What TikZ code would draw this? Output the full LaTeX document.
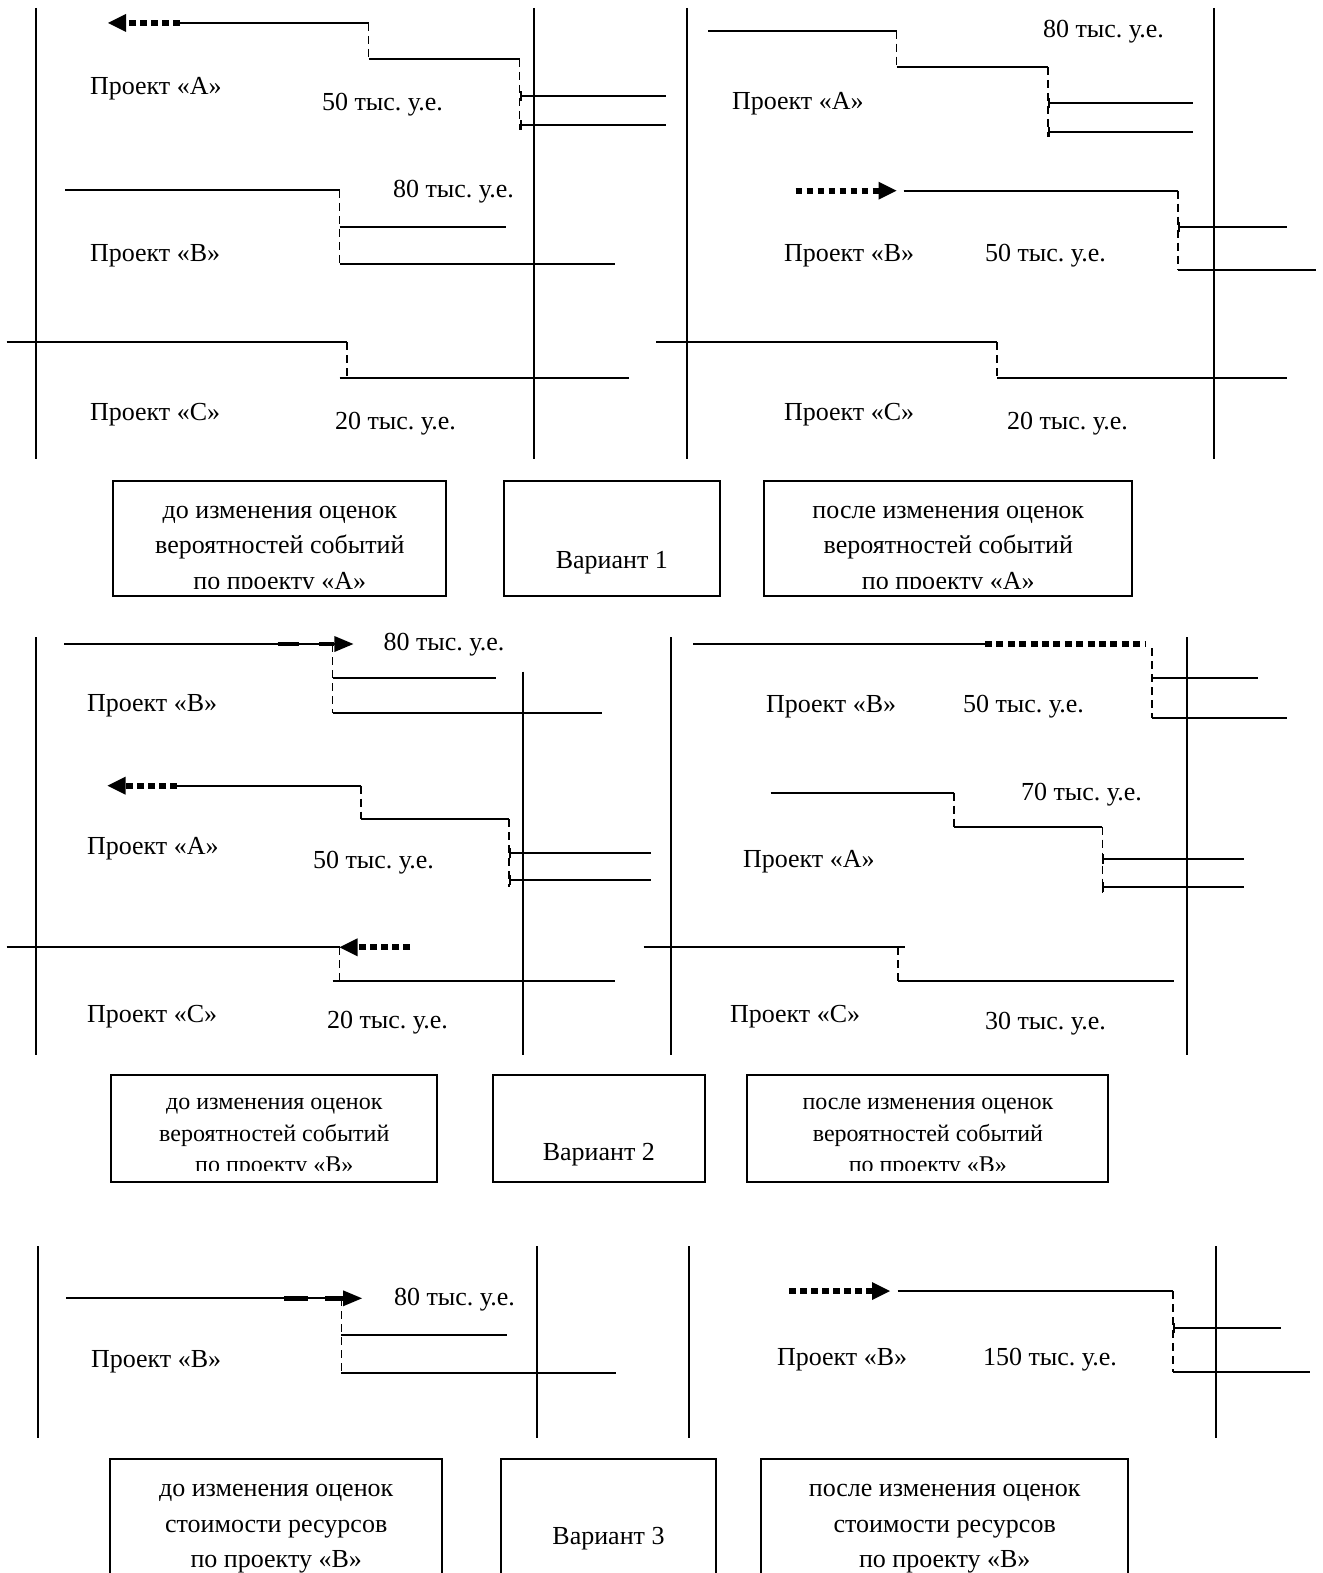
\documentclass[tikz,border=0pt]{standalone}
\usepackage{fontspec}
\setmainfont{Liberation Serif}
\usetikzlibrary{arrows.meta}
\frenchspacing

\begin{document}
\begin{tikzpicture}[x=0.5pt, y=-0.5pt, line width=1pt,
    rail/.style={line width=1pt},
    gap/.style={line width=0.8pt, dash pattern=on 4pt off 2.5pt},
    stub/.style={arrows={Bar[width=5pt]-}},
    move/.style={line width=3pt, dash pattern=on 3.3pt off 2.2pt, -{Triangle[length=9pt,width=9pt,line width=0pt]}},
    dots/.style={line width=3pt, dash pattern=on 3.5pt off 2.2pt},
    push/.style={line width=2.2pt, dash pattern=on 10.75pt off 10pt, -{Triangle[length=9.5pt,width=8pt,line width=0pt]}},
    lbl/.style={anchor=west, inner sep=0pt, font=\fontsize{13}{15}\selectfont},
    big/.style={align=center, inner sep=0pt, font=\fontsize{13}{17.7}\selectfont},
    small/.style={align=center, inner sep=0pt, font=\fontsize{12}{15.6}\selectfont}]
    \useasboundingbox (0,0) rectangle (1322,1573);

    \draw[rail] (36.4,8) -- (36.4,459) (534,8) -- (534,459);
    \draw[move] (180,23) -- (108,23);
    \draw (180,23) -- (368.6,23);
    \draw[gap] (368.6,23) -- (368.6,59);
    \draw (368.6,59) -- (519.5,59);
    \draw[gap] (519.5,59) -- (519.5,130);
    \draw[stub] (519.5,96) -- (665.7,96);
    \draw[stub] (519.5,125) -- (665.7,125);
    \draw (65,190) -- (339.5,190);
    \draw[gap] (339.5,190) -- (339.5,264);
    \draw (339.5,227) -- (506,227) (339.5,264) -- (615,264);
    \draw (6.5,342) -- (347,342);
    \draw[gap] (347,342) -- (347,378);
    \draw (339.5,378) -- (629,378);
    \node[lbl] (pA1) at (89,89) {Проект «А»};
    \node[lbl] (vA1) at (321,105) {50 тыс. у.е.};
    \node[lbl] (pB1) at (89,256) {Проект «В»};
    \node[lbl] (vB1) at (392,192) {80 тыс. у.е.};
    \node[lbl] (pC1) at (89,415) {Проект «С»};
    \node[lbl] (vC1) at (334,424) {20 тыс. у.е.};

    \draw[rail] (686.9,8) -- (686.9,459) (1214,8) -- (1214,459);
    \draw (708,30.7) -- (896.5,30.7);
    \draw[gap] (896.5,30.7) -- (896.5,67);
    \draw (896.5,67) -- (1048,67);
    \draw[gap] (1048,67) -- (1048,137);
    \draw[stub] (1048,103) -- (1192.6,103);
    \draw[stub] (1048,132) -- (1192.6,132);
    \draw[move] (795.7,190.7) -- (896.5,190.7);
    \draw (903.7,190.7) -- (1178,190.7);
    \draw[gap] (1178,190.7) -- (1178,270);
    \draw[stub] (1178,227) -- (1286.5,227);
    \draw (1178,270) -- (1315.6,270);
    \draw (656,342) -- (997,342);
    \draw[gap] (997,342) -- (997,378);
    \draw (997,378) -- (1286.5,378);
    \node[lbl] (pA2) at (731,104) {Проект «А»};
    \node[lbl] (vA2) at (1042,32) {80 тыс. у.е.};
    \node[lbl] (pB2) at (783,256) {Проект «В»};
    \node[lbl] (vB2) at (984,256) {50 тыс. у.е.};
    \node[lbl] (pC2) at (783,415) {Проект «С»};
    \node[lbl] (vC2) at (1006,424) {20 тыс. у.е.};

    \draw (113.3,481.4) rectangle (446.4,595.8) (503.5,481.4) rectangle (720,595.8) (764.3,481.4) rectangle (1132.4,595.8);
    \begin{scope}
    \clip (113.3,481.4) rectangle (1132.4,588);
    \node[big] (before1) at (279.8,550.5) {до изменения оценок\\вероятностей событий\\по проекту «А»};
    \node[big] (after1) at (948.3,550.5) {после изменения оценок\\вероятностей событий\\по проекту «А»};
    \end{scope}
    \node[big] (var1) at (611.8,563) {Вариант 1};

    \draw[rail] (35.6,637) -- (35.6,1055) (523.4,671.7) -- (523.4,1055);
    \draw (64,644) -- (340,644);
    \draw[push] (277.5,644) -- (353.4,644);
    \draw[gap] (332.6,644) -- (332.6,712.7);
    \draw (332.6,678.3) -- (495.7,678.3) (332.6,712.7) -- (601.5,712.7);
    \draw[move] (177,785.7) -- (107.5,785.7);
    \draw (177,785.7) -- (360.8,785.7);
    \draw[gap] (360.8,785.7) -- (360.8,819.3);
    \draw (360.8,819.3) -- (508.7,819.3);
    \draw[gap] (508.7,819.3) -- (508.7,886.7);
    \draw[stub] (508.7,852.7) -- (650.5,852.7);
    \draw[stub] (508.7,880) -- (650.5,880);
    \draw (6.5,947.3) -- (339.5,947.3);
    \draw[move] (410,947.3) -- (339.5,947.3);
    \draw[gap] (339.5,947.3) -- (339.5,980.7);
    \draw (332.6,980.7) -- (615,980.7);
    \node[lbl] (pB3) at (86,706) {Проект «В»};
    \node[lbl] (vB3) at (382.5,645) {80 тыс. у.е.};
    \node[lbl] (pA3) at (86,849) {Проект «А»};
    \node[lbl] (vA3) at (312,863) {50 тыс. у.е.};
    \node[lbl] (pC3) at (86,1017) {Проект «С»};
    \node[lbl] (vC3) at (326,1023) {20 тыс. у.е.};

    \draw[rail] (671.3,637) -- (671.3,1055) (1187,637) -- (1187,1055);
    \draw (693,644) -- (985,644);
    \draw[dots] (985,644) -- (1146,644);
    \draw[gap] (1152,648) -- (1152,718.3);
    \draw (1152,678.3) -- (1257.7,678.3) (1152,718.3) -- (1286.8,718.3);
    \draw (770.5,792.7) -- (954,792.7);
    \draw[gap] (954,792.7) -- (954,826.7);
    \draw (954,826.7) -- (1102.4,826.7);
    \draw[gap] (1102.4,826.7) -- (1102.4,893.3);
    \draw[stub] (1102.4,859.3) -- (1243.7,859.3);
    \draw[stub] (1102.4,886.7) -- (1243.7,886.7);
    \draw (643.5,947.3) -- (904.5,947.3);
    \draw[gap] (898,947.3) -- (898,980.7);
    \draw (898,980.7) -- (1173.7,980.7);
    \node[lbl] (pB4) at (765,707) {Проект «В»};
    \node[lbl] (vB4) at (962,707) {50 тыс. у.е.};
    \node[lbl] (pA4) at (742,862) {Проект «А»};
    \node[lbl] (vA4) at (1020,795) {70 тыс. у.е.};
    \node[lbl] (pC4) at (729,1017) {Проект «С»};
    \node[lbl] (vC4) at (984,1024) {30 тыс. у.е.};

    \draw (111.3,1075.2) rectangle (437.3,1181.6) (492.5,1075.2) rectangle (705,1181.6) (747.3,1075.2) rectangle (1108.4,1181.6);
    \begin{scope}
    \clip (111.3,1075.2) rectangle (1108.4,1170);
    \node[small] (before2) at (274.3,1138) {до изменения оценок\\вероятностей событий\\по проекту «В»};
    \node[small] (after2) at (927.9,1138) {после изменения оценок\\вероятностей событий\\по проекту «В»};
    \end{scope}
    \node[big] (var2) at (598.8,1155) {Вариант 2};

    \draw[rail] (37.7,1246) -- (37.7,1438) (536.9,1246) -- (536.9,1438);
    \draw (66,1298.3) -- (342,1298.3);
    \draw[push, dash pattern=on 12pt off 8.5pt] (284,1298.3) -- (362,1298.3);
    \draw[gap] (341.3,1298.3) -- (341.3,1373.3);
    \draw (341.3,1335) -- (507.4,1335) (341.3,1373.3) -- (615.8,1373.3);
    \node[lbl] (pB5) at (90,1362) {Проект «В»};
    \node[lbl] (vB5) at (393,1300) {80 тыс. у.е.};

    \draw[rail] (689.4,1246) -- (689.4,1438) (1215.8,1246) -- (1215.8,1438);
    \draw[move] (789.3,1291) -- (890,1291);
    \draw (897.7,1291) -- (1173,1291);
    \draw[gap] (1173,1291) -- (1173,1371.7);
    \draw[stub] (1173,1327.7) -- (1281,1327.7);
    \draw (1173,1371.7) -- (1310,1371.7);
    \node[lbl] (pB6) at (776,1360) {Проект «В»};
    \node[lbl] (vB6) at (982,1360) {150 тыс. у.е.};

    \draw (110,1459.3) rectangle (442.3,1620) (501,1459.3) rectangle (716,1620) (761.4,1459.3) rectangle (1128,1620);
    \node[big] (before3) at (276.2,1529) {до изменения оценок\\стоимости ресурсов\\по проекту «В»};
    \node[big] (after3) at (944.7,1529) {после изменения оценок\\стоимости ресурсов\\по проекту «В»};
    \node[big] (var3) at (608.5,1539) {Вариант 3};
\end{tikzpicture}
\end{document}
